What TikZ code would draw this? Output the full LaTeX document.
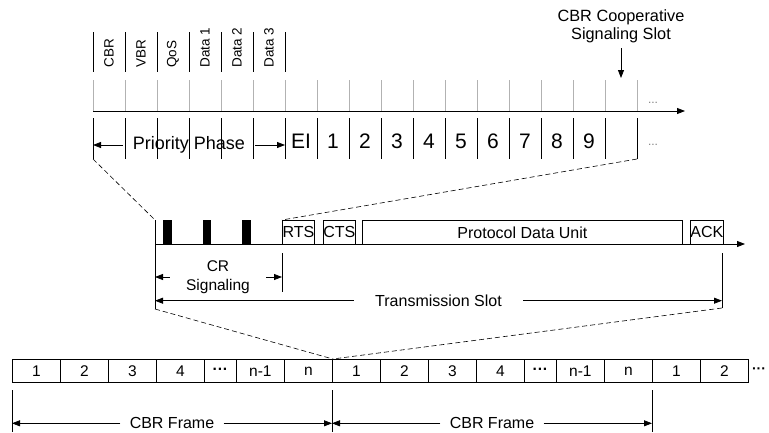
\documentclass[tikz,border=0pt]{standalone}
\usepackage{fontspec}
\setmainfont{Liberation Sans}
\usetikzlibrary{arrows.meta}
\newcommand\fsz[1]{\fontsize{#1}{#1}\selectfont}
\begin{document}
\begin{tikzpicture}[x=1pt,y=-1pt,line width=0.8pt,
    tip/.style={-{Triangle[length=8pt,width=6pt]}},
    cell/.style={draw,anchor=north west,inner sep=0pt,minimum height=23pt,font=\fsz{15.5}},
    pkt/.style={draw,anchor=north west,inner sep=0pt,minimum height=24pt,font=\fsz{16}},
    lbl/.style={inner ysep=0pt,font=\fsz{16}},
    tick/.style={gray!60}]
\useasboundingbox (0,0) rectangle (769,432);
\foreach \k in {0,...,17} \draw[tick] (93+32*\k,80) -- (93+32*\k,111);
\foreach \k in {0,...,17} \draw (93+32*\k,118) -- (93+32*\k,159);
\foreach \k in {0,...,6} \draw (93+32*\k,32) -- (93+32*\k,72);
\foreach \t [count=\k from 0] in {CBR,VBR,QoS,Data 1,Data 2,Data 3}
  \node[rotate=90,anchor=west,inner sep=0pt,font=\fsz{13.5}] (p\k) at (109+32*\k,68) {\t};
\foreach \t [count=\k from 0] in {EI,1,2,3,4,5,6,7,8,9}
  \node[anchor=base,inner sep=0pt,font=\fsz{21}] (s\k) at (301+32*\k,148) {\t};
\coordinate (ta) at (93,111);
\coordinate (tb) at (685,111);
\draw[tip] (ta) -- (tb);
\node[anchor=base,font=\fsz{12},text=gray] (dt) at (653,103) {...};
\node[anchor=base,font=\fsz{12},text=gray] (db) at (653,145) {...};
\coordinate (ppl) at (93,145);
\coordinate (ppr) at (285,145);
\node[inner ysep=0pt,inner xsep=10pt,font=\fsz{18}] (pp) at (189,145) {Priority Phase};
\draw[tip] (pp) -- (ppl);
\draw[tip] (pp) -- (ppr);
\node[align=center,anchor=north,inner sep=0pt,font=\fontsize{16.3}{18.5}\selectfont] (coop) at (621,9) {CBR Cooperative\\Signaling Slot};
\coordinate (slot) at (621,78);
\draw[tip,shorten <=5pt] (coop) -- (slot);

\coordinate (zl) at (93,159);
\coordinate (zr) at (637,159);
\coordinate (mtop) at (155,220);
\coordinate (mbot) at (155,309);
\coordinate (ma) at (155,244);
\coordinate (mb) at (745,244);
\draw[tip] (ma) -- (mb);
\draw (mtop) -- (mbot);
\foreach \x in {163,202.5,242} \fill (\x,220) rectangle ++(8.5,24);
\node[pkt,minimum width=32pt] (rts) at (282,220) {RTS};
\node[pkt,minimum width=31.5pt] (cts) at (323,220) {CTS};
\node[pkt,minimum width=320pt] (pdu) at (362,220) {Protocol Data Unit};
\node[pkt,minimum width=33pt] (ack) at (690,220) {ACK};
\draw[dashed,dash pattern=on 5pt off 3pt,line width=0.6pt] (zl) -- (mtop);
\draw[dashed,dash pattern=on 5pt off 3pt,line width=0.6pt] (zr) -- (rts.north west);

\draw (282,253) -- (282,292);
\coordinate (crl) at (155,277);
\coordinate (crr) at (282,277);
\node[align=center,inner ysep=0pt,inner xsep=16pt,font=\fontsize{15.5}{18.5}\selectfont] (cr) at (218,277) {CR\\Signaling};
\draw[tip] (cr) -- (crl);
\draw[tip] (cr) -- (crr);
\draw (722,253) -- (722,308);
\coordinate (tsl) at (155,300.7);
\coordinate (tsr) at (722,300.7);
\coordinate (tsb) at (722,308);
\node[lbl,inner xsep=21pt] (ts) at (438.5,300.7) {Transmission Slot};
\draw[tip] (ts) -- (tsl);
\draw[tip] (ts) -- (tsr);

\foreach \x/\w/\t [count=\i] in {12/48/1,60/48/2,108/48/3,156/48/4,204/32/{\bfseries ···},236/48/n-1,284/48/n,332/48/1,
    380/48/2,428/48/3,476/48/4,524/32/{\bfseries ···},556/48/n-1,604/48/n,652/48/1,700/48/2}
  \node[cell,minimum width=\w pt] (f\i) at (\x,359) {\t};
\node[font=\fsz{14}\bfseries,inner sep=0pt] (fe) at (759,370.5) {···};
\draw[dashed,dash pattern=on 5pt off 3pt,line width=0.6pt] (mbot) -- (f7.north east);
\draw[dashed,dash pattern=on 5pt off 3pt,line width=0.6pt] (tsb) -- (f7.north east);

\foreach \x in {12,332,652} \draw (\x,390) -- (\x,432);
\coordinate (b0) at (12,423.3);
\coordinate (b1) at (332,423.3);
\coordinate (b2) at (652,423.3);
\node[lbl,inner xsep=9pt] (cf1) at (172,423.3) {CBR Frame};
\node[lbl,inner xsep=9pt] (cf2) at (492,423.3) {CBR Frame};
\draw[tip] (cf1) -- (b0);
\draw[tip] (cf1) -- (b1);
\draw[tip] (cf2) -- (b1);
\draw[tip] (cf2) -- (b2);
\end{tikzpicture}
\end{document}
